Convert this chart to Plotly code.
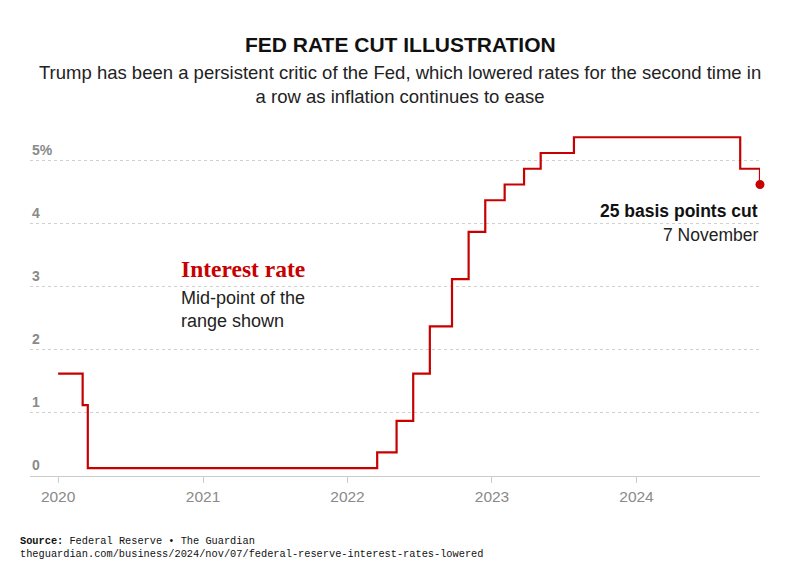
import plotly.graph_objects as go

# ---- data ----
dates = ["2020-01-01", "2020-03-03", "2020-03-16", "2022-03-17", "2022-05-05",
         "2022-06-16", "2022-07-28", "2022-09-22", "2022-11-03", "2022-12-15",
         "2023-02-02", "2023-03-23", "2023-05-04", "2023-07-27", "2024-09-19",
         "2024-11-08"]
rates = [1.625, 1.125, 0.125, 0.375, 0.875, 1.625, 2.375, 3.125, 3.875, 4.375,
         4.625, 4.875, 5.125, 5.375, 4.875, 4.625]

ytick_vals = [0, 1, 2, 3, 4, 5]
ytick_text = ["0", "1", "2", "3", "4", "5%"]
xtick_vals = ["2020-01-01", "2021-01-01", "2022-01-01", "2023-01-01", "2024-01-01"]
xtick_text = ["2020", "2021", "2022", "2023", "2024"]

RED = "#c70000"
SANS = "Liberation Sans, Arial, sans-serif"

fig = go.Figure()
fig.add_trace(go.Scatter(
    x=dates, y=rates, mode="lines", line=dict(color=RED, width=2.2, shape="hv"),
    hoverinfo="skip", showlegend=False, cliponaxis=False))
fig.add_trace(go.Scatter(
    x=[dates[-1]], y=[rates[-1]], mode="markers", cliponaxis=False,
    marker=dict(color=RED, size=9), hoverinfo="skip", showlegend=False))

# white boxes masking gridlines behind the labels
fig.add_shape(type="rect", xref="paper", yref="y", x0=0.188, x1=0.395, y0=2.25, y1=3.5,
              fillcolor="white", line_width=0, layer="between")
fig.add_shape(type="rect", xref="paper", yref="y", x0=0.772, x1=1.0, y0=3.55, y1=4.35,
              fillcolor="white", line_width=0, layer="between")

for v, t in zip(ytick_vals, ytick_text):
    fig.add_annotation(x=0, xref="paper", y=v, yref="y", xanchor="left", yanchor="bottom",
                       text=t, showarrow=False, yshift=1,
                       font=dict(family=SANS, size=14, color="#8a8a8a", weight="bold"))

fig.add_annotation(x=0.204, xref="paper", y=3.28, yref="y", xanchor="left", yanchor="middle",
                   text="<b>Interest rate</b>", showarrow=False,
                   font=dict(family="Liberation Serif, Georgia, serif", size=23.5, color=RED))
fig.add_annotation(x=0.204, xref="paper", y=2.64, yref="y", xanchor="left", yanchor="middle",
                   text="Mid-point of the<br>range shown", showarrow=False, align="left",
                   font=dict(family=SANS, size=18, color="#222222"))
fig.add_annotation(x=1.0, xref="paper", y=4.2, yref="y", xanchor="right", yanchor="middle",
                   text="<b>25 basis points cut</b>", showarrow=False, align="right",
                   font=dict(family=SANS, size=17.5, color="#111111"))
fig.add_annotation(x=1.0, xref="paper", y=3.83, yref="y", xanchor="right", yanchor="middle",
                   text="7 November", showarrow=False, align="right",
                   font=dict(family=SANS, size=17.5, color="#222222"))

# title + subtitle + footer
fig.add_annotation(x=0.5, xref="paper", y=1, yref="paper", yshift=86, yanchor="middle",
                   xanchor="center", showarrow=False, xshift=5,
                   text="<b>FED RATE CUT ILLUSTRATION</b>",
                   font=dict(family=SANS, size=21, color="#111111"))
fig.add_annotation(x=0.5, xref="paper", y=1, yref="paper", yshift=46, yanchor="middle",
                   xanchor="center", showarrow=False, xshift=5,
                   text="Trump has been a persistent critic of the Fed, which lowered rates for the second time in<br>a row as inflation continues to ease",
                   font=dict(family=SANS, size=18.5, color="#222222"))
fig.add_annotation(x=0, xref="paper", y=0, yref="paper", yshift=-57, xshift=-12,
                   xanchor="left", yanchor="top", showarrow=False, align="left",
                   text="<b>Source:</b> Federal Reserve \u2022 The Guardian<br>theguardian.com/business/2024/nov/07/federal-reserve-interest-rates-lowered",
                   font=dict(family="Liberation Mono, DejaVu Sans Mono, monospace", size=10.3, color="#111111"))

fig.update_layout(
    width=800, height=580,
    margin=dict(l=22, r=48, t=122, b=112),
    paper_bgcolor="white", plot_bgcolor="white",
    showlegend=False,
    xaxis=dict(range=["2019-10-22", "2024-11-08"], tickvals=xtick_vals, ticktext=xtick_text,
               showgrid=False, zeroline=False, showline=True, linecolor="#cccccc", linewidth=1,
               ticks="outside", ticklen=6, tickcolor="#cccccc",
               tickfont=dict(family=SANS, size=15.5, color="#8a8a8a")),
    yaxis=dict(range=[0, 5.49], tickvals=[1, 2, 3, 4, 5], showticklabels=False,
               showgrid=True, gridcolor="#d0d0d0", griddash="dot", gridwidth=1,
               zeroline=False, showline=False, ticks=""),
)

fig.write_html("out.html")
